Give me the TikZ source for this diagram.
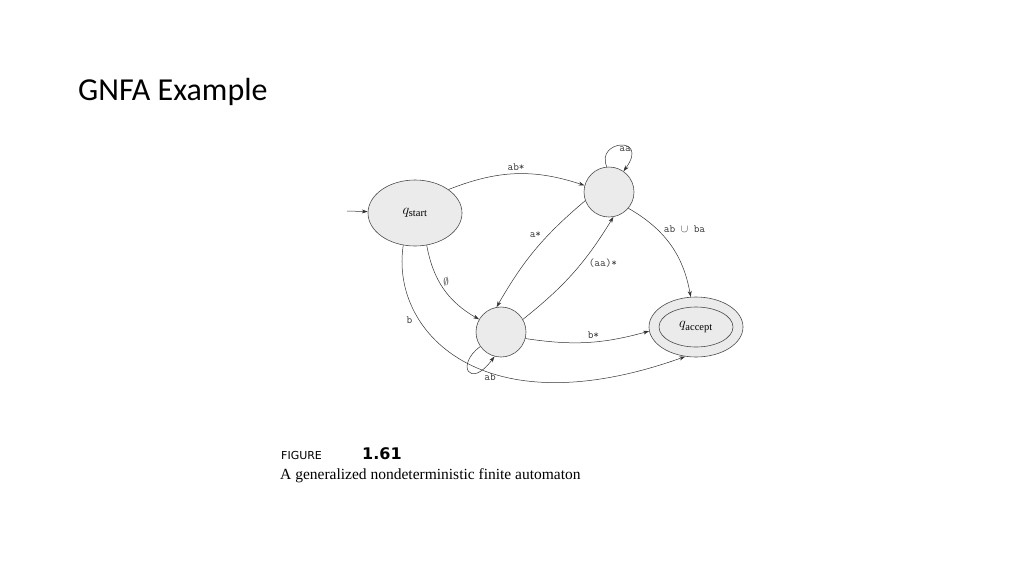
\documentclass[tikz,border=0pt]{standalone}
\usepackage{fontspec}
\newfontfamily\titlefont{Carlito}
\newfontfamily\capsans{DejaVu Sans}
\setmainfont{Liberation Serif}
\usetikzlibrary{arrows.meta,shapes.geometric}
\begin{document}
\begin{tikzpicture}[x=1pt,y=-1pt,
  st/.style={draw=black!70,fill=black!8,line width=0.6pt},
  ed/.style={-{Stealth[length=6pt,width=4pt]},line width=0.5pt,black!80},
  lb/.style={font=\ttfamily\fontsize{11}{11}\selectfont,inner sep=1pt}]
\useasboundingbox (0,0) rectangle (1024,576);
\node[anchor=base west,font=\titlefont\fontsize{32}{32}\selectfont,inner sep=0] (title) at (78,100) {GNFA Example};
\node[st,ellipse,minimum width=94,minimum height=66] (s) at (415,213) {\fontsize{15}{15}\selectfont$q_{\mathrm{start}}$};
\node[st,circle,minimum size=50] (t) at (609,192) {};
\node[st,circle,minimum size=50] (m) at (501,332) {};
\node[st,ellipse,minimum width=94,minimum height=60] (a) at (696,327) {};
\node[draw=black!70,ellipse,minimum width=74,minimum height=40,line width=0.6pt] (ai) at (696,327) {\fontsize{15}{15}\selectfont$q_{\mathrm{accept}}$};
\coordinate (in) at (347,211);
\draw[ed] (in) -- (s);
\draw[ed] (s.35) to[bend left=20] node[lb,above=2pt,pos=0.5] {ab*} (t.165);
\draw[ed] (t.95) .. controls (595,140) and (650,135) .. node[lb,right=8pt,pos=0.3] {aa} (t.55);
\draw[ed] (t.200) to[bend right=10] node[lb,left=6pt,pos=0.35] {a*} (m.100);
\draw[ed] (m.30) to[bend right=10] node[lb,right=6pt,pos=0.6] {(aa)*} (t.280);
\draw[ed] (s.290) to[bend right=25] node[lb,right=3pt,pos=0.4] {$\emptyset$} (m.150);
\draw[ed] (t.320) to[bend left=25] node[lb,right=6pt,pos=0.3] {ab $\cup$ ba} (a.100);
\draw[ed] (m.-15) to[bend right=12] node[lb,above=2pt,pos=0.55] {b*} (a.185);
\draw[ed] (s.250) .. controls (390,330) and (480,430) .. node[lb,left=6pt,pos=0.3] {b} (a.250);
\draw[ed] (m.215) .. controls (455,365) and (470,390) .. node[lb,below right=2pt,pos=0.8] {ab} (m.255);
\node[anchor=base west,inner sep=0,font=\capsans\fontsize{11}{11}\selectfont] (fig) at (281,459) {FIGURE};
\node[anchor=base west,inner sep=0,font=\capsans\bfseries\fontsize{16}{16}\selectfont] (num) at (362,459) {1.61};
\node[anchor=base west,inner sep=0,font=\fontsize{15.5}{16}\selectfont] (cap) at (280,479) {A generalized nondeterministic finite automaton};
\end{tikzpicture}
\end{document}
